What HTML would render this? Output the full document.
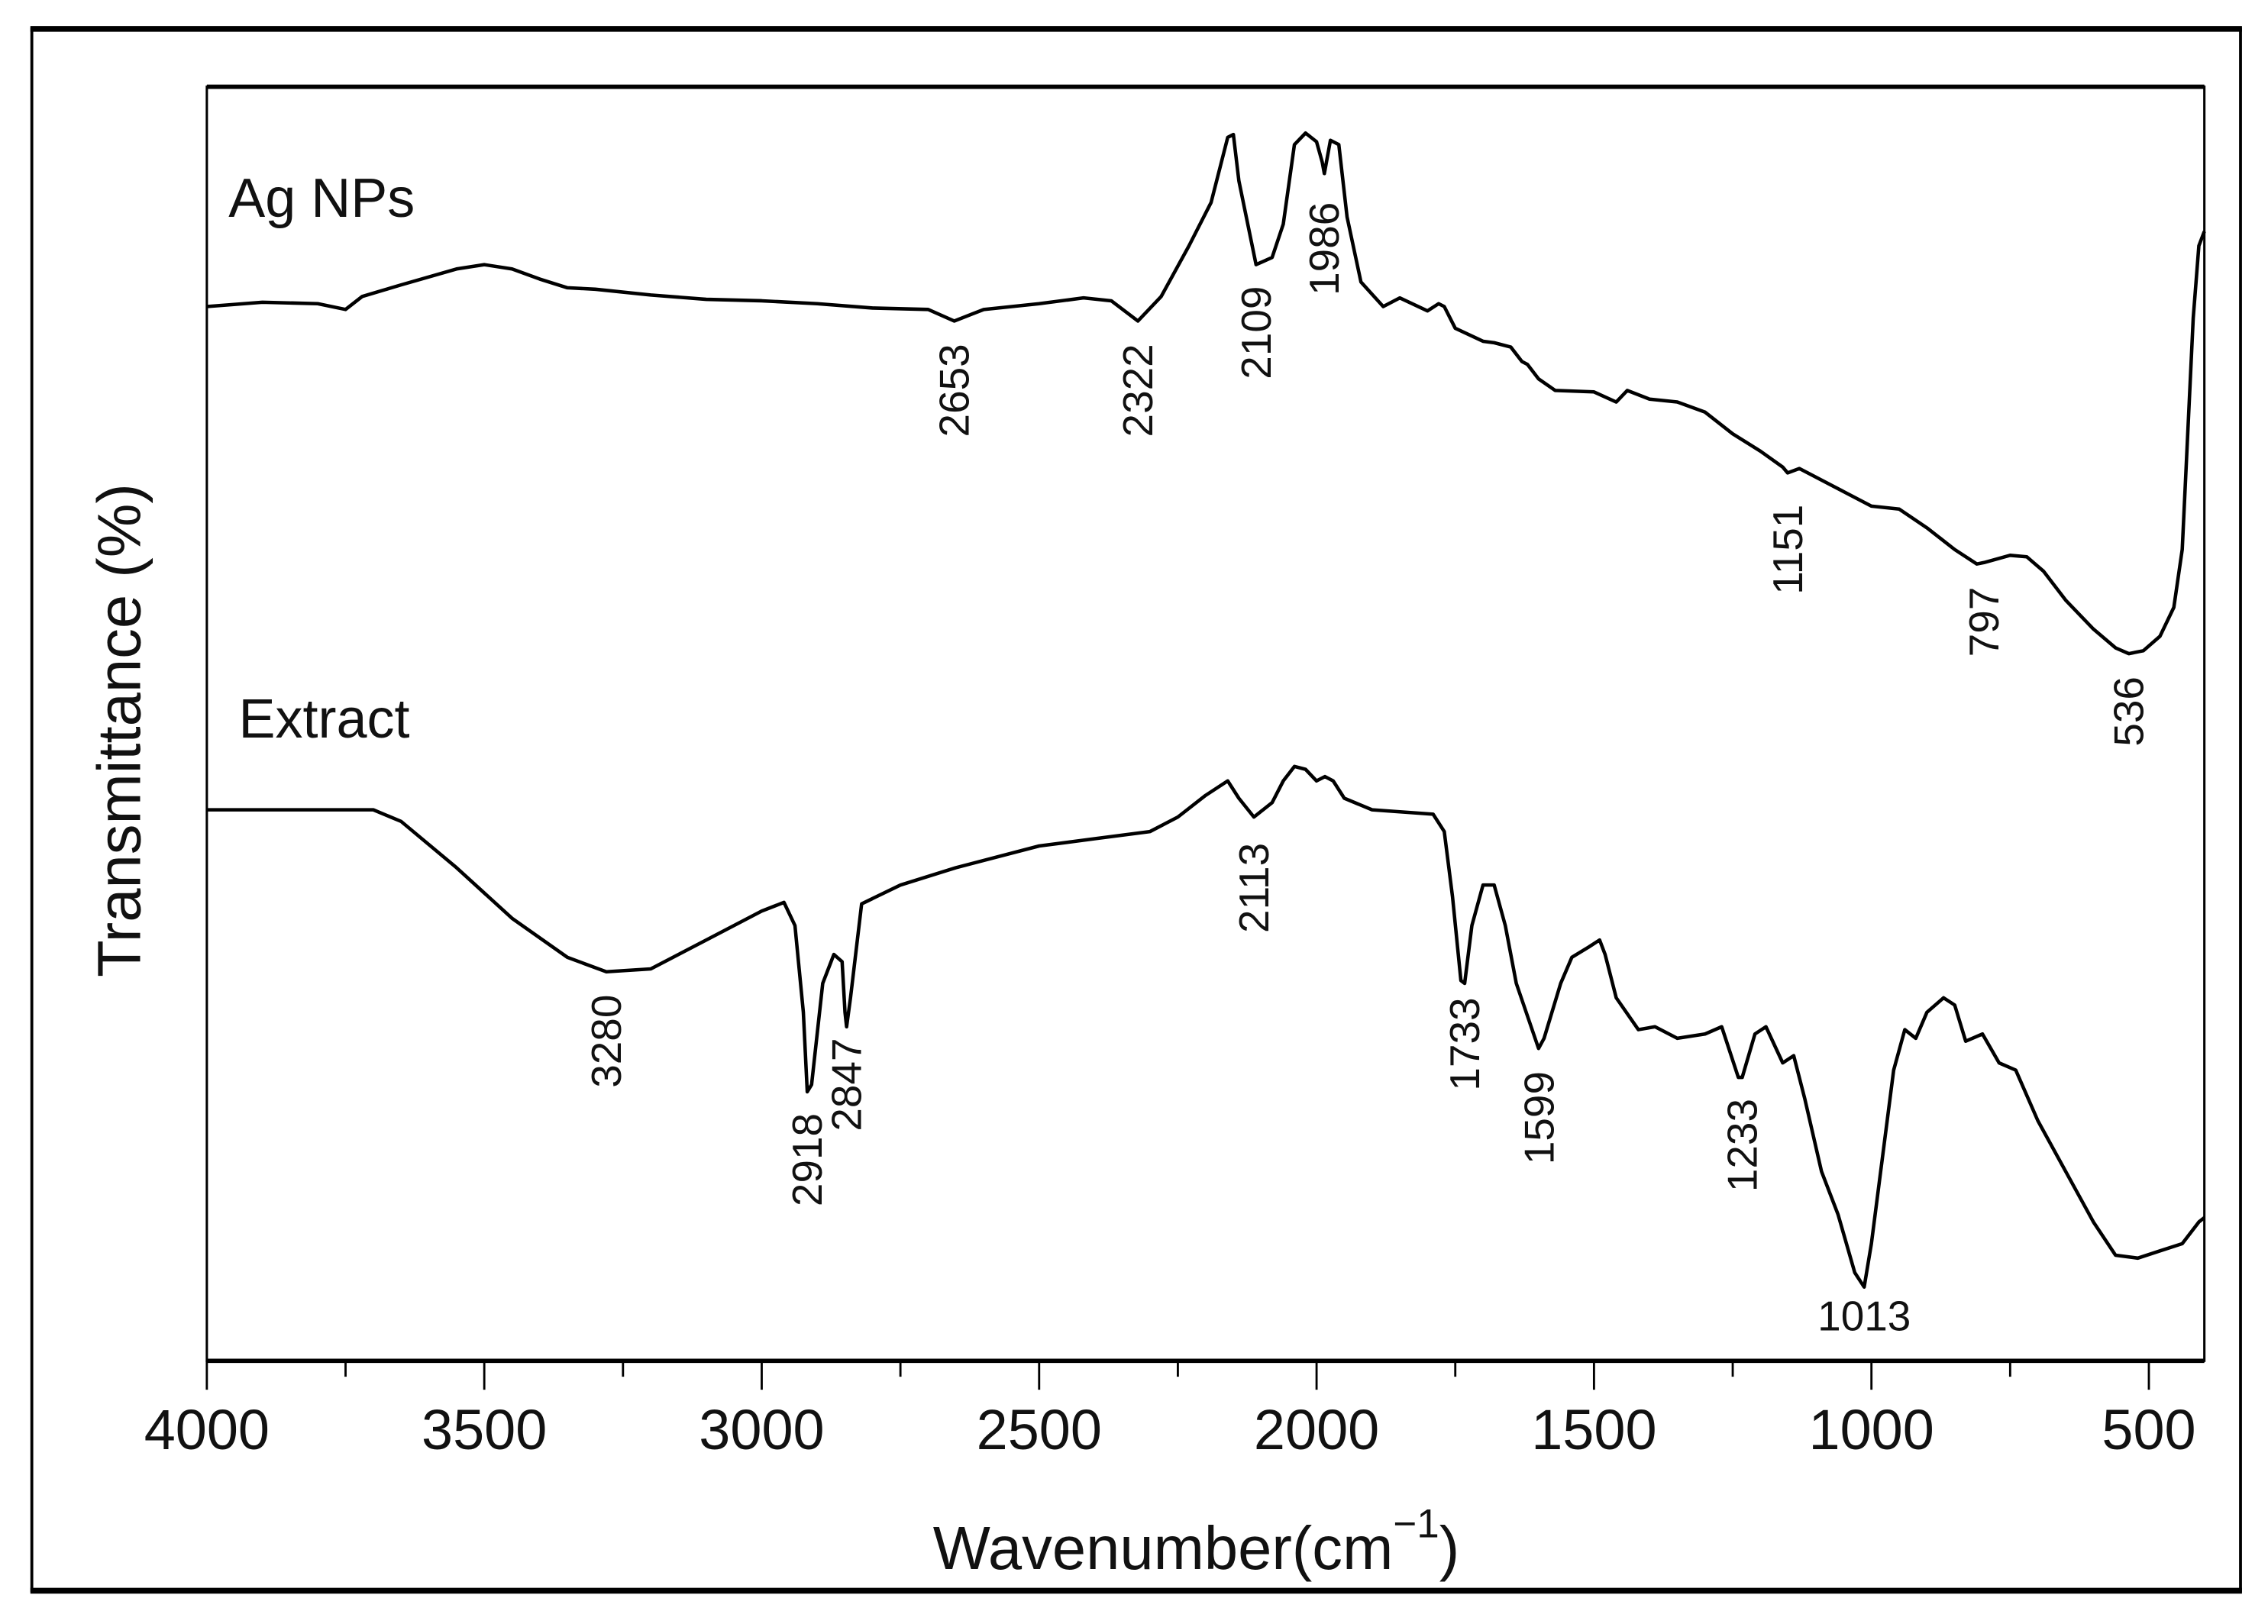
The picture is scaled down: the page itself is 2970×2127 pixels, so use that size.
<!DOCTYPE html>
<html><head><meta charset="utf-8">
<style>
html,body{margin:0;padding:0;background:#fff;}
svg{display:block;}
text{font-family:"Liberation Sans",Arial,sans-serif;fill:#111;}
</style></head>
<body>
<svg id="chart" width="2970" height="2127" viewBox="0 0 1568 1123" preserveAspectRatio="none" xmlns="http://www.w3.org/2000/svg">
  <rect x="22" y="20" width="1527" height="1080" fill="none" stroke="#000" stroke-width="2"/>
  <line x1="21" y1="20" x2="1550" y2="20" stroke="#000" stroke-width="4"/>
  <line x1="21" y1="1100" x2="1550" y2="1100" stroke="#000" stroke-width="4"/>
  <rect x="143" y="60" width="1381" height="881" fill="none" stroke="#000" stroke-width="1.6"/>
  <line x1="143" y1="60" x2="1524" y2="60" stroke="#000" stroke-width="3"/>
  <line x1="143" y1="941" x2="1524" y2="941" stroke="#000" stroke-width="3"/>
  <g id="ticks"></g>
  <g id="series"></g>
  <g id="labels"></g>
  <text x="158" y="150" font-size="38">Ag NPs</text>
  <text x="165" y="510" font-size="38">Extract</text>
  <text x="645" y="1085" font-size="42">Wavenumber(cm<tspan font-size="28" dy="-22">−1</tspan><tspan dy="22">)</tspan></text>
  <text transform="translate(97,505) rotate(-90)" text-anchor="middle" font-size="42">Transmittance (%)</text>
</svg>
<script>
const xTicksMajor = [4000,3500,3000,2500,2000,1500,1000,500];
const xTicksMinor = [3750,3250,2750,2250,1750,1250,750];
const agWn = [4000,3900,3800,3750,3720,3650,3550,3500,3450,3400,3350,3300,3200,3100,3000,2900,2800,2700,2653,2600,2500,2420,2370,2322,2280,2230,2190,2160,2150,2140,2109,2080,2060,2040,2020,2000,1990,1986,1975,1960,1945,1920,1880,1850,1800,1780,1770,1750,1700,1680,1650,1630,1620,1600,1570,1500,1460,1440,1400,1350,1300,1250,1200,1160,1151,1130,1050,1000,950,900,850,810,797,750,720,690,650,600,560,536,510,480,455,440,430,420,410,400];
const agT = [729,732,731,727,736,744,755,758,755,748,742,741,737,734,733,731,728,727,719,727,731,735,733,719,736,771,801,846,848,816,758,763,786,841,849,843,829,821,844,841,791,746,729,735,726,731,729,714,705,704,701,691,689,679,671,670,663,671,665,663,656,641,629,618,614,617,601,591,589,576,561,551,552,557,556,546,526,506,493,489,491,501,521,561,641,721,771,781];
const exWn = [4000,3800,3700,3650,3550,3450,3350,3280,3200,3100,3000,2960,2940,2925,2918,2910,2890,2870,2855,2850,2847,2840,2820,2750,2650,2500,2400,2300,2250,2200,2160,2140,2113,2080,2060,2040,2020,2000,1985,1970,1950,1900,1790,1770,1755,1740,1733,1720,1700,1680,1660,1640,1600,1590,1560,1540,1510,1490,1480,1460,1420,1390,1350,1300,1270,1240,1233,1210,1190,1160,1140,1120,1090,1060,1030,1013,1000,980,960,940,920,900,870,850,830,800,770,740,700,650,600,560,520,480,440,410,400];
const exT = [381,381,381,373,341,306,279,269,271,291,311,317,301,241,186,191,261,281,276,241,231,251,316,329,341,356,361,366,376,391,401,389,376,386,401,411,409,401,404,401,389,381,378,366,321,263,261,301,329,329,301,261,216,223,261,279,286,291,281,251,229,231,223,226,231,196,196,226,231,206,211,181,131,101,61,51,81,141,201,229,223,241,251,246,221,226,206,201,166,131,96,73,71,76,81,96,99];
const agLabels = ["2653","2322","2109","1986","1151","797","536"];
const agLabelWn = [2653,2322,2109,1986,1151,797,536];
const agLabelY = [270,270,230,172,380,430,492];
const exLabels = ["3280","2918","2847","2113","1733","1599","1233"];
const exLabelWn = [3280,2918,2847,2113,1733,1599,1233];
const exLabelY = [720,802,750,614,722,773,792];

const NS = "http://www.w3.org/2000/svg";
function x(w){ return 143 + (4000 - w) * (1381/3600); }
function y(v){ return 941 - v * (881/881); }

const ticks = document.getElementById('ticks');
xTicksMajor.forEach(t=>{
  const l = document.createElementNS(NS,'line');
  l.setAttribute('x1',x(t)); l.setAttribute('x2',x(t)); l.setAttribute('y1',941); l.setAttribute('y2',961);
  l.setAttribute('stroke','#000'); l.setAttribute('stroke-width','1.5');
  
  
  ticks.appendChild(l);
  const tx = document.createElementNS(NS,'text');
  tx.setAttribute('x',x(t)); tx.setAttribute('y',1002); tx.setAttribute('text-anchor','middle'); tx.setAttribute('font-size','39');
  tx.textContent = t;
  
  
  ticks.appendChild(tx);
});
xTicksMinor.forEach(t=>{
  const l = document.createElementNS(NS,'line');
  l.setAttribute('x1',x(t)); l.setAttribute('x2',x(t)); l.setAttribute('y1',941); l.setAttribute('y2',952);
  l.setAttribute('stroke','#000'); l.setAttribute('stroke-width','1.5');
  
  
  ticks.appendChild(l);
});

const series = document.getElementById('series');
function drawLine(wn, t, name){
  const p = document.createElementNS(NS,'path');
  let d = '';
  wn.forEach((w,i)=>{ d += (i?'L':'M') + x(w).toFixed(1) + ',' + y(t[i]).toFixed(1); });
  p.setAttribute('d', d);
  p.setAttribute('fill','none'); p.setAttribute('stroke','#000'); p.setAttribute('stroke-width','2.4');
  p.setAttribute('stroke-linejoin','round');
  
  
  series.appendChild(p);
}
drawLine(agWn, agT, 'ag-nps-spectrum');
drawLine(exWn, exT, 'extract-spectrum');

const labels = document.getElementById('labels');
function addRot(txt, w, cy){
  const t = document.createElementNS(NS,'text');
  const cx = x(w) + 10;
  t.setAttribute('transform','translate('+cx.toFixed(1)+','+cy+') rotate(-90)');
  t.setAttribute('text-anchor','middle'); t.setAttribute('font-size','29');
  t.textContent = txt;
  
  
  labels.appendChild(t);
}
agLabels.forEach((s,i)=>addRot(s, agLabelWn[i], agLabelY[i]));
exLabels.forEach((s,i)=>addRot(s, exLabelWn[i], exLabelY[i]));
const l1013 = document.createElementNS(NS,'text');
l1013.setAttribute('x', x(1013)); l1013.setAttribute('y', 920);
l1013.setAttribute('text-anchor','middle'); l1013.setAttribute('font-size','29');
l1013.textContent = '1013';


labels.appendChild(l1013);
</script>
</body></html>
